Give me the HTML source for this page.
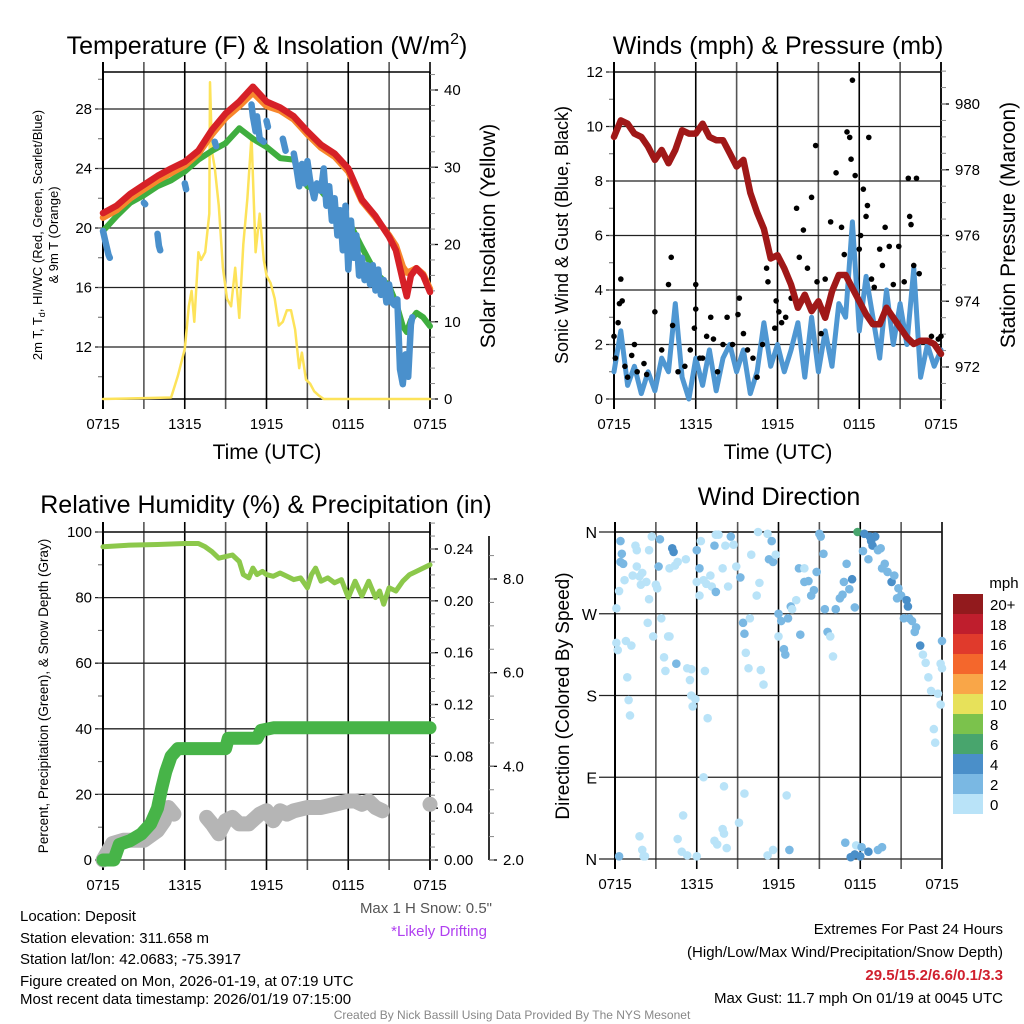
<!DOCTYPE html>
<html><head><meta charset="utf-8"><style>
html,body{margin:0;padding:0;background:#fff;}
svg{display:block;font-family:"Liberation Sans",sans-serif;}
</style></head><body>
<svg id="root" width="1024" height="1024" viewBox="0 0 1024 1024" xmlns="http://www.w3.org/2000/svg">
<g id="marks"></g>
<g id="texts" font-family="Liberation Sans, sans-serif">
<text x="267" y="54" font-size="25" text-anchor="middle">Temperature (F) &amp; Insolation (W/m<tspan dy="-10" font-size="16">2</tspan><tspan dy="10">)</tspan></text>
<text x="778" y="54" font-size="25" text-anchor="middle">Winds (mph) &amp; Pressure (mb)</text>
<text x="266" y="513" font-size="25" text-anchor="middle">Relative Humidity (%) &amp; Precipitation (in)</text>
<text x="779" y="505" font-size="25" text-anchor="middle">Wind Direction</text>
<text x="267" y="459" font-size="21" text-anchor="middle">Time (UTC)</text>
<text x="778" y="459" font-size="21" text-anchor="middle">Time (UTC)</text>
<text transform="translate(42,235) rotate(-90)" font-size="13" text-anchor="middle">2m T, T<tspan font-size="9" dy="3">d</tspan><tspan dy="-3">, HI/WC (Red, Green, Scarlet/Blue)</tspan></text>
<text transform="translate(58,235) rotate(-90)" font-size="13" text-anchor="middle">&amp; 9m T (Orange)</text>
<text transform="translate(495,236) rotate(-90)" font-size="21" text-anchor="middle">Solar Insolation (Yellow)</text>
<text transform="translate(568,235) rotate(-90)" font-size="18" text-anchor="middle">Sonic Wind &amp; Gust (Blue, Black)</text>
<text transform="translate(1015,225) rotate(-90)" font-size="21" text-anchor="middle">Station Pressure (Maroon)</text>
<text transform="translate(48,696) rotate(-90)" font-size="13.5" text-anchor="middle">Percent, Precipitation (Green), &amp; Snow Depth (Gray)</text>
<text transform="translate(569,696) rotate(-90)" font-size="19" text-anchor="middle">Direction (Colored By Speed)</text>
<text x="1004" y="588" font-size="15" text-anchor="middle">mph</text>
<g font-size="15">
<text x="20" y="921">Location: Deposit</text>
<text x="20" y="943">Station elevation: 311.658 m</text>
<text x="20" y="964">Station lat/lon: 42.0683; -75.3917</text>
<text x="20" y="986">Figure created on Mon, 2026-01-19, at 07:19 UTC</text>
<text x="20" y="1004">Most recent data timestamp: 2026/01/19 07:15:00</text>
</g>
<text x="492" y="913" font-size="15" fill="#555" text-anchor="end">Max 1 H Snow: 0.5"</text>
<text x="487" y="936" font-size="15" fill="#b040f0" text-anchor="end">*Likely Drifting</text>
<g font-size="15" text-anchor="end">
<text x="1003" y="934">Extremes For Past 24 Hours</text>
<text x="1003" y="957">(High/Low/Max Wind/Precipitation/Snow Depth)</text>
<text x="1003" y="980" fill="#d0202e" font-weight="bold">29.5/15.2/6.6/0.1/3.3</text>
<text x="1003" y="1003">Max Gust: 11.7 mph On 01/19 at 0045 UTC</text>
</g>
<text x="512" y="1019" font-size="12" fill="#888" text-anchor="middle">Created By Nick Bassill Using Data Provided By The NYS Mesonet</text>
</g>
</svg>
<script>
// ---- data (hours since 0715 UTC) ----
const xTickLabels = ["0715","1315","1915","0115","0715"];
const tempTimes = [0,1,2,3,4,5,6,7,8,9,10,11,12,13,14,15,16,17,18,19,20,21,21.5,22,22.3,22.6,23,23.5,24];
const tempRed = [21.0,21.5,22.3,22.9,23.5,24.0,24.45,25.2,26.6,27.7,28.5,29.5,28.5,28.1,27.5,26.5,25.6,25.0,24.0,21.9,20.8,19.4,18.5,16.5,15.4,16.8,17.3,16.8,15.7];
const tempOrange = [20.7,21.2,22.0,22.6,23.2,23.7,24.2,25.0,26.3,27.4,28.2,29.1,28.2,27.9,27.3,26.3,25.4,24.8,23.8,21.8,20.7,19.5,18.8,17.4,17.0,17.1,17.3,16.9,15.9];
const tempGreen = [19.8,20.8,21.7,22.2,22.8,23.2,23.8,24.6,25.2,25.7,26.7,26.0,25.45,24.7,24.6,22.8,22.5,21.4,20.5,18.7,17.0,16.1,15.0,13.4,13.0,13.8,14.3,14.0,13.4];
const blueTimes = [0,0.2,0.4,0.5,null,3.0,3.1,null,4.0,4.1,4.2,null,6.0,6.1,null,8.2,8.3,null,10.9,11.0,11.2,11.3,11.5,11.8,null,12.0,12.1,null,13.2,13.4,null,14.0,14.2,14.4,14.6,14.8,15.0,15.2,15.5,15.7,16.0,16.2,16.4,16.6,16.8,17.0,17.2,17.4,17.6,17.8,18.0,18.2,18.4,18.6,18.8,19.0,19.2,19.4,19.6,19.8,20.0,20.2,20.4,20.6,20.8,21.0,21.2,21.4,21.6,21.8,22.0,22.2,22.4,22.6,22.7];
const blueVals = [19.8,19.0,18.2,18.0,null,21.7,21.6,null,19.6,18.8,18.5,null,23.0,22.6,null,25.8,25.5,null,28.3,27.5,26.5,27.5,26.0,25.8,null,27.2,26.8,null,26.0,25.2,null,25.0,24.0,22.8,24.3,23.0,24.5,23.2,22.0,23.0,22.5,24.0,21.5,22.8,20.5,22.0,19.5,21.2,18.5,21.5,17.2,20.5,18.0,19.5,16.8,18.0,16.5,17.5,16.2,17.5,15.8,17.2,15.5,16.5,15.0,16.2,15.0,14.8,15.2,10.5,9.5,11.5,10.0,13.5,14.0];
const solarTimes = [0,5.0,5.5,6.0,6.3,6.5,6.7,7.0,7.2,7.5,7.8,7.85,8.0,8.2,8.5,8.8,9.1,9.4,9.7,10.0,10.3,10.6,10.9,11.2,11.5,11.8,12.0,12.3,12.6,12.9,13.2,13.5,13.8,14.1,14.4,14.6,14.9,15.2,15.5,15.8,16.2,24];
const solarVals = [0,0.2,3,6.5,12,14,10,19,18,19,24,41,32,30,25,17,13,12,17,10.5,20,26,34,19,24,18,16,15,13,9.5,10,11.5,11.5,9,4,6,2.5,2,1,0.5,0,0];
const tempTicks = [12,16,20,24,28];
const solarTicks = [0,10,20,30,40];

const windTimes = [0,0.5,1,1.5,2,2.5,3,3.5,4,4.5,5,5.5,6,6.5,7,7.5,8,8.5,9,9.5,10,10.5,11,11.5,12,12.5,13,13.5,14,14.5,15,15.5,16,16.5,17,17.5,18,18.5,19,19.5,20,20.5,21,21.5,22,22.5,23,23.5,24];
const windVals = [1.0,2.5,0.5,1.2,0.2,1.0,0.3,1.5,1.0,3.5,0.8,0,1.5,0.5,1.8,0.3,1.5,2.0,1.0,1.8,0.2,1.0,2.8,1.2,2.0,1.0,1.8,2.8,0.8,3.0,1.0,2.5,1.2,3.5,3.0,6.5,2.5,4.5,3.0,1.5,4.0,2.0,3.5,2.0,4.8,0.8,2.0,1.2,1.8];
const pressTimes = windTimes;
const pressVals = [979.0,979.5,979.4,979.1,979.0,978.7,978.3,978.6,978.2,978.6,979.2,979.1,979.1,979.4,979.0,978.9,978.9,978.5,978.1,978.3,977.3,976.7,976.2,975.3,975.4,975.0,974.5,973.8,974.2,973.7,974.0,973.5,974.3,974.8,974.8,974.4,974.0,973.6,973.3,973.3,973.8,973.5,973.2,972.9,972.7,972.8,972.8,972.7,972.4];
const gustTimes = [0,0.1,0.3,0.4,0.5,0.6,0.8,1,1.3,1.5,1.7,2.2,2.4,3,3.5,4,4.2,4.3,4.7,5.2,5.6,5.9,6,6,6.3,6.5,6.8,7.1,7.3,7.6,8.0,8.3,8.7,9.1,9.2,9.5,9.8,10.2,10.5,10.9,11.2,11.3,11.8,11.9,12.1,12.3,12.6,13.0,13.4,13.6,13.9,14.2,14.5,14.8,14.9,15.2,15.5,15.9,16.3,16.7,16.9,17.1,17.3,17.4,17.5,17.7,18,18.1,18.3,18.5,18.6,18.7,18.9,19.1,19.5,19.7,19.9,20.2,20.5,20.9,21.3,21.6,21.7,21.8,22.0,22.2,22.4,22.7,23.3,23.8,24];
const gustVals = [2.3,1.5,2.8,3.5,4.4,3.6,1.2,0.8,1.6,2.0,1.0,1.3,0.9,3.2,1.8,4.2,5.2,2.7,1.0,1.2,1.8,2.6,4.2,3.3,1.5,1.5,2.3,3.0,2.2,1.0,2.0,3.0,2.0,3.1,3.7,2.4,1.8,1.5,0.8,2.0,4.8,4.3,2.6,3.6,3.2,2.8,3.0,3.7,7.0,5.2,6.2,4.8,7.4,9.3,4.3,2.4,4.4,6.5,8.3,6.3,5.3,9.8,9.6,8.8,11.7,8.2,5.5,6.0,7.7,6.7,7.1,9.6,4.4,4.1,5.5,4.9,6.3,5.6,4.2,5.6,4.3,8.1,6.7,6.4,4.9,8.1,4.6,2.1,2.3,2.2,2.3];
const windTicks = [0,2,4,6,8,10,12];
const pressTicks = [972,974,976,978,980];

const rhTimes = [0,2,4,6,7,7.5,8,8.5,9,9.5,10,10.3,10.7,11,11.3,11.7,12,12.5,13,13.5,14,14.5,15,15.3,15.6,16,16.5,17,17.5,18,18.5,19,19.5,20,20.3,20.6,21,21.5,22,22.5,23,24];
const rhVals = [95.5,96,96.2,96.5,96.5,95.5,94,92,92.5,93,91,87,86,89,87,88,87,86.5,87.5,86.5,85.5,86,83,87,89,85,86,84.5,85.5,80,85,80.5,85,80,82,78,83,82,85,87,88,90];
const precipTimes = [0,0.8,1.2,2,2.8,3.5,4.0,4.3,4.6,5.0,5.5,9.0,9.2,11.3,11.6,12.5,24];
const precipVals = [0,0,0.012,0.015,0.02,0.028,0.04,0.055,0.068,0.08,0.086,0.086,0.094,0.094,0.1,0.102,0.102];
const snowTimes = [0,0.7,1.5,3,4,4.5,4.8,5.2,null,7.6,8,8.5,9,9.5,10,10.7,11.5,12,12.5,13,13.5,14,15,16,17,18,18.5,19,19.5,20,20.5,null,24,24];
const snowVals = [2.0,2.35,2.42,2.42,2.63,2.84,3.12,2.98,null,2.91,2.77,2.56,2.84,2.91,2.77,2.77,2.98,3.05,2.84,3.05,2.98,3.05,3.12,3.12,3.19,3.26,3.26,3.19,3.26,3.12,3.05,null,3.19,3.19];
const rhTicks = [0,20,40,60,80,100];
const precipTicks = [0,0.04,0.08,0.12,0.16,0.20,0.24];
const snowTicks = [2,4,6,8];

const dirTimes = [0.1,0.1,0.2,0.3,0.4,0.5,0.4,0.6,0.7,0.8,0.9,1.0,1.1,1.2,1.3,1.5,1.6,1.6,1.8,2.0,1.9,2.3,2.4,2.5,2.5,2.7,2.8,3.0,3.1,3.2,3.3,3.4,3.6,3.7,3.9,4.0,4.0,4.2,4.3,4.4,4.5,4.6,5.2,5.3,5.5,5.6,5.7,5.6,5.9,6.0,6.0,6.2,6.3,6.2,6.5,6.6,6.7,6.8,7.0,7.1,7.3,7.4,7.6,7.4,7.9,8.1,8.3,8.5,8.7,8.9,9.2,9.4,9.5,9.6,9.8,9.9,10.0,10.4,10.5,10.6,10.7,10.9,11.2,11.3,11.5,11.6,11.8,12.0,12.0,12.2,12.4,12.5,12.7,12.9,13.0,13.3,13.5,13.6,13.9,13.9,14.2,14.4,14.6,14.8,15.0,15.1,15.3,15.4,15.6,15.8,16.0,16.2,16.5,16.7,16.8,17.0,17.2,17.4,17.6,17.8,18.0,18.2,18.3,18.6,18.7,18.8,18.9,19.1,19.3,19.5,19.6,19.8,20.0,20.3,20.5,20.7,20.8,21.0,21.2,21.4,21.5,21.6,21.8,22.0,22.1,22.4,22.6,22.8,23.0,23.2,23.4,23.5,23.7,23.9,24.0,24.0,23.9,
0.3,1.8,2.0,2.1,4.6,5.0,4.9,8.0,8.2,9.1,9.5,7.3,7.5,11.2,11.6,12.6,12.8,16.9,17.3,17.7,17.6,18.1,18.6,19.3,19.6,2.2,5.3,6.0,6.5,7.9,8.0];
const dirVals = [276,238,230,295,327,336,350,325,307,240,200,175,158,235,312,345,340,322,311,315,302,305,260,286,340,355,245,302,298,322,352,265,222,207,245,245,320,342,338,323,215,327,330,210,197,180,168,209,176,305,340,320,350,290,307,207,303,155,312,300,345,294,357,357,320,345,300,355,346,322,310,260,248,227,210,265,335,290,360,304,208,192,358,330,350,327,335,245,270,262,231,225,265,278,275,285,320,247,320,305,306,290,296,316,358,355,336,275,250,245,223,275,287,291,305,325,297,308,277,360,3,339,358,330,355,350,345,355,340,342,320,325,316,305,312,287,298,290,265,285,278,265,262,250,255,235,225,216,200,185,143,128,182,215,210,240,170,
3,25,10,3,22,48,8,28,12,40,72,20,16,4,10,70,10,18,2,15,5,13,8,10,13,3,4,3,90,33,80];
const dirSpeeds = [1,1,1,1,3,3,3,3,1,1,1,1,1,1,1,1,1,1,1,1,1,1,1,1,1,1,1,1,1,3,3,1,1,1,1,1,1,4,4,1,3,1,1,1,1,1,1,1,1,1,3,3,1,1,1,1,1,1,1,1,3,3,1,1,1,1,1,3,1,1,3,3,3,1,1,1,1,1,1,1,1,1,1,3,3,3,1,1,3,3,3,3,3,3,1,1,3,3,1,3,3,3,3,3,3,3,3,3,3,1,1,3,3,3,3,3,3,4,3,6,4,3,4,3,4,4,4,4,3,3,3,3,3,4,3,3,3,3,3,4,4,3,3,3,3,4,1,1,1,1,1,1,1,1,1,3,1,
3,1,1,1,1,1,1,1,1,1,1,1,1,1,1,1,3,3,4,1,4,3,4,3,3,1,1,1,1,1,1];
const dirTickLabels = ["N","E","S","W","N"];
const legendLabels = ["20+","18","16","14","12","10","8","6","4","2","0"];
const legendColors = ["#921a1d","#bf1e2d","#e03a2c","#f4672c","#f9a648","#e7e15a","#7bc24c","#48a56d","#4a8fc9","#7ab8e3","#b9e3f8"];

// ---- rendering ----
const NS = "http://www.w3.org/2000/svg";
const marks = document.getElementById("marks");
function mk(tag, attrs, parent) {
  const e = document.createElementNS(NS, tag);
  for (const k in attrs) e.setAttribute(k, attrs[k]);
  (parent || marks).appendChild(e);
  return e;
}
function linScale(d0, d1, r0, r1) { return v => r0 + (v - d0) / (d1 - d0) * (r1 - r0); }
function pathFrom(ts, vs, sx, sy) {
  let d = "", pen = false;
  for (let i = 0; i < ts.length; i++) {
    if (ts[i] === null || vs[i] === null) { pen = false; continue; }
    d += (pen ? "L" : "M") + sx(ts[i]).toFixed(1) + "," + sy(vs[i]).toFixed(1);
    pen = true;
  }
  return d;
}
const panels = [
  {name:"temp", x0:103, x1:430, y0:72, y1:399},
  {name:"wind", x0:614, x1:941, y0:72, y1:399},
  {name:"rh", x0:103, x1:430, y0:532, y1:860},
  {name:"direction", x0:615, x1:942, y0:532, y1:859}
];
function frame(p) {
  const sx = linScale(0, 24, p.x0, p.x1);
  const g = mk("g", {});
  
  
  for (let h = 0; h <= 24; h += 3) {
    const l = mk("line", {x1:sx(h), x2:sx(h), y1:p.y0 - 10, y2:p.y1 + 10, stroke:(h%6===0?"#000":"#555"), "stroke-width":1.6}, g);
    
    
  }
  mk("line", {x1:p.x0, x2:p.x1, y1:p.y0, y2:p.y0, stroke:"#000", "stroke-width":1.5}, g);
  for (let i = 0; i < xTickLabels.length; i++) {
    const t = mk("text", {x:sx(i*6), y:p.y1 + 30, "font-size":15, "text-anchor":"middle"});
    t.textContent = xTickLabels[i];
    
    
  }
  return sx;
}
function leftAxis(p, ticks, sy, fmt, minorStep) {
  for (const v of ticks) {
    mk("line", {x1:p.x0 - 8, x2:p.x1, y1:sy(v), y2:sy(v), stroke:"#222", "stroke-width":1.3});
    const t = mk("text", {x:p.x0 - 11, y:sy(v) + 5, "font-size":15, "text-anchor":"end"});
    t.textContent = fmt(v);
    
    
  }
  if (minorStep) {
    for (let v = ticks[0] - minorStep; v <= ticks[ticks.length-1] + minorStep; v += minorStep) {
      const y = sy(v); if (y < p.y0 || y > p.y1) continue;
      mk("line", {x1:p.x0 - 5, x2:p.x0, y1:y, y2:y, stroke:"#666", "stroke-width":1});
    }
  }
}
function rightAxis(p, ax, ticks, sy, fmt, minorStep, y0, y1) {
  mk("line", {x1:ax, x2:ax, y1:y0, y2:y1, stroke:"#000", "stroke-width":1.6});
  for (const v of ticks) {
    mk("line", {x1:ax, x2:ax + 8, y1:sy(v), y2:sy(v), stroke:"#000", "stroke-width":1.3});
    const t = mk("text", {x:ax + 14, y:sy(v) + 5, "font-size":15});
    t.textContent = fmt(v);
    
    
  }
  for (let v = ticks[0] - minorStep * 6; v <= ticks[ticks.length-1] + minorStep*6; v += minorStep) {
    const y = sy(v); if (y < y0 || y > y1) continue;
    mk("line", {x1:ax, x2:ax + 5, y1:y, y2:y, stroke:"#888", "stroke-width":1});
  }
}
function line(ts, vs, sx, sy, color, w, name) {
  const e = mk("path", {d:pathFrom(ts, vs, sx, sy), fill:"none", stroke:color, "stroke-width":w, "stroke-linejoin":"round", "stroke-linecap":"round"});
  
  
  return e;
}

// Panel 1: temperature
{
  const p = panels[0];
  const sx = frame(p);
  const sy = linScale(12, 28, 347, 109);
  const sr = linScale(0, 40, 399, 90);
  leftAxis(p, tempTicks, sy, v => v, 2);
  mk("line", {x1:p.x0, x2:p.x0, y1:p.y0-10, y2:p.y1+10, stroke:"#000", "stroke-width":2});
  rightAxis(p, p.x1, solarTicks, sr, v => v, 2, p.y0, p.y1 + 10);
  mk("line", {x1:p.x0, x2:p.x1, y1:p.y1, y2:p.y1, stroke:"#000", "stroke-width":1.5});
  line(solarTimes, solarVals, sx, sr, "#fde35a", 2.5, "solar-insolation-line");
  line(tempTimes, tempGreen, sx, sy, "#3fae3f", 6, "dewpoint-line");
  line(tempTimes, tempOrange, sx, sy, "#f7872c", 6.5, "temp-9m-line");
  line(tempTimes, tempRed, sx, sy, "#d62027", 6.5, "temp-2m-line");
  line(blueTimes, blueVals, sx, sy, "#4a90cc", 6.5, "wind-chill-line");
}
// Panel 2: wind
{
  const p = panels[1];
  const sx = frame(p);
  const sy = linScale(0, 12, 399, 72);
  const sp = linScale(972, 980, 367, 104);
  leftAxis(p, windTicks, sy, v => v, 1);
  mk("line", {x1:p.x0, x2:p.x0, y1:p.y0-10, y2:p.y1+10, stroke:"#000", "stroke-width":2});
  rightAxis(p, p.x1, pressTicks, sp, v => v, 0.5, p.y0 - 10, p.y1 + 10);
  line(windTimes, windVals, sx, sy, "#4f97d2", 5, "sonic-wind-line");
  for (let i = 0; i < gustTimes.length; i++) {
    const c = mk("circle", {cx:sx(gustTimes[i]), cy:sy(gustVals[i]), r:2.8, fill:"#000"});
    
    
  }
  line(pressTimes, pressVals, sx, sp, "#a01818", 6.5, "pressure-line");
}
// Panel 3: RH & precip
{
  const p = panels[2];
  const sx = frame(p);
  const sy = linScale(0, 100, 860, 532);
  const spc = linScale(0, 0.24, 860, 549);
  const ss = linScale(2, 8, 860, 579);
  leftAxis(p, rhTicks, sy, v => v, 10);
  mk("line", {x1:p.x0, x2:p.x0, y1:p.y0-10, y2:p.y1+10, stroke:"#000", "stroke-width":2});
  rightAxis(p, p.x1, precipTicks, spc, v => v.toFixed(2), 0.01, p.y0 - 10, p.y1 + 10);
  rightAxis(p, 489, snowTicks, ss, v => v.toFixed(1), 0.5, p.y0 + 4, p.y1);
  line(snowTimes, snowVals, sx, ss, "#b5b5b5", 15, "snow-depth-line");
  line(precipTimes, precipVals, sx, spc, "#47b448", 13, "precip-line");
  line(rhTimes, rhVals, sx, sy, "#8cc84b", 5, "rh-line");
}
// Panel 4: wind direction
{
  const p = panels[3];
  const sx = frame(p);
  const sy = linScale(0, 360, 859, 532);
  for (let i = 0; i < dirTickLabels.length; i++) {
    const v = i * 90;
    mk("line", {x1:p.x0 - 16, x2:p.x1, y1:sy(v), y2:sy(v), stroke:"#222", "stroke-width":1.3});
    const t = mk("text", {x:p.x0 - 18, y:sy(v) + 6, "font-size":16, "text-anchor":"end"});
    t.textContent = dirTickLabels[i];
    
    
  }
  mk("line", {x1:p.x0, x2:p.x0, y1:p.y0-10, y2:p.y1+10, stroke:"#000", "stroke-width":2});
  for (let i = 0; i < dirTimes.length; i++) {
    const idx = Math.min(10, 10 - Math.floor(dirSpeeds[i] / 2));
    const c = mk("circle", {cx:sx(dirTimes[i]), cy:sy(dirVals[i]), r:4.3, fill:legendColors[idx]});
    
    
  }
  for (let i = 0; i < legendLabels.length; i++) {
    const r = mk("rect", {x:953, y:594 + i*20, width:30, height:20, fill:legendColors[i]});
    
    
    const t = mk("text", {x:990, y:610 + i*20, "font-size":15});
    t.textContent = legendLabels[i];
    
    
  }
}
</script>
</body></html>
